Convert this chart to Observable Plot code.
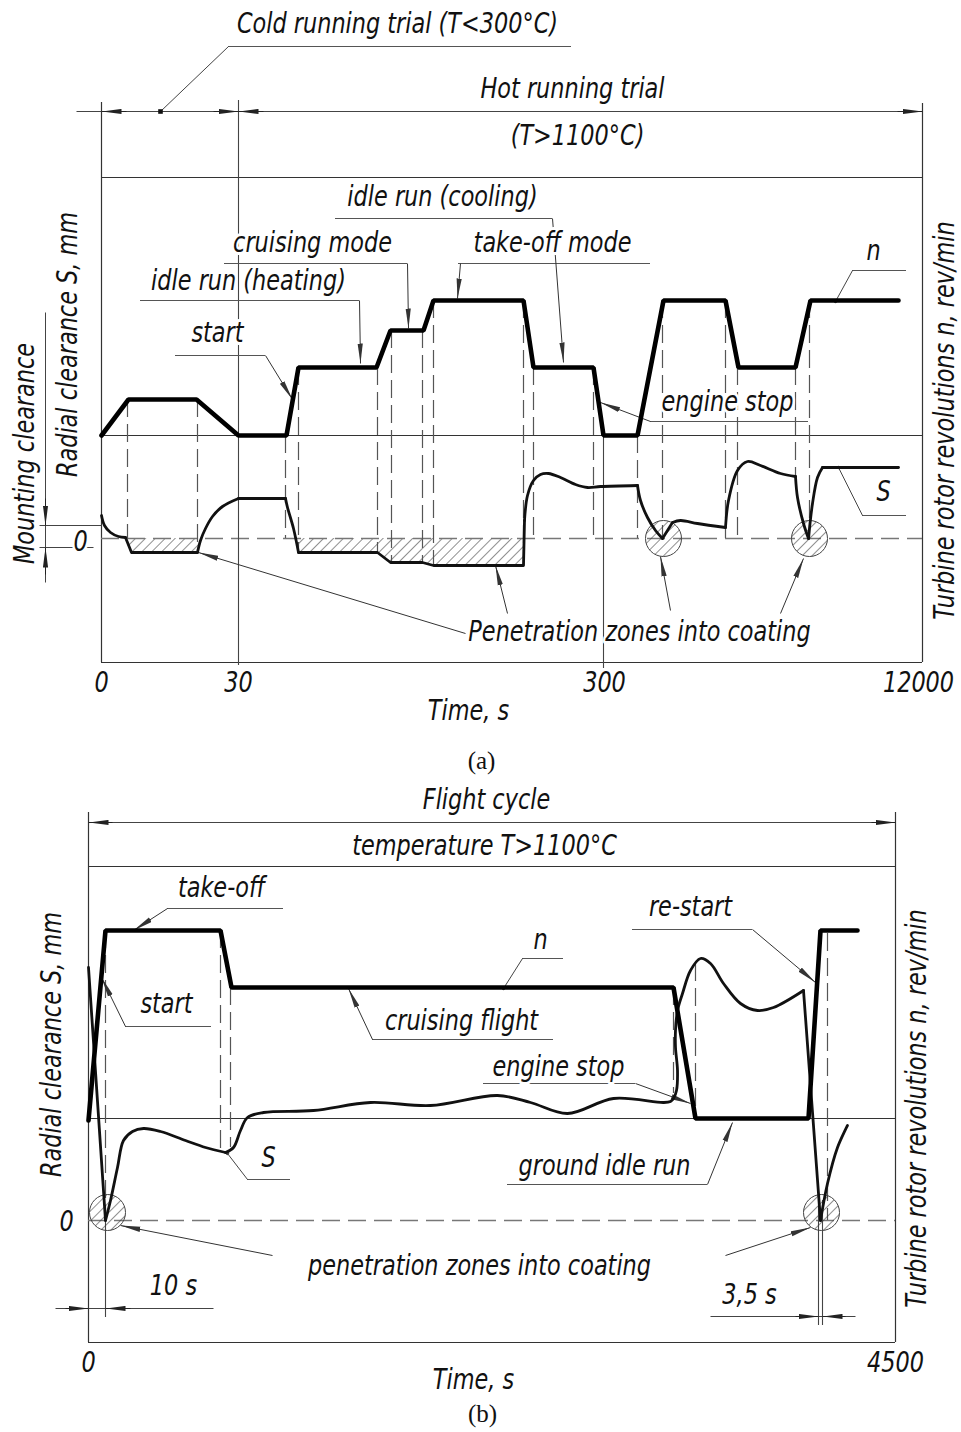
<!DOCTYPE html>
<html><head><meta charset="utf-8">
<script src="https://cdn.jsdelivr.net/npm/d3@7"></script>
<script src="https://cdn.jsdelivr.net/npm/@observablehq/plot@0.6"></script>
<style>
html,body{margin:0;padding:0;background:#fff;}
#chart svg{display:block;}
</style></head><body><div id="chart"></div>
<script>
// ---------------- Panel (a): schematic units (time axis is broken, not linear) ----------------
const aTimeTicks = [0, 137, 503, 817];
const aTimeLabels = ["0", "30", "300", "12000"];
// rotor revolutions n (thick line)
const aRevolutions = [[0,103],[27,139],[95,139],[137,103],[185,103],[197,171],[275,171],[289,208],[322,208],[332,238],[422,238],[432,171],[492,171],[502,103],[536,103],[562,238],[624,238],[637,171],[694,171],[709,238],[797,238]];
// radial clearance S: smooth pieces and straight pieces
const aClearanceSmooth = [
  [[0,23],[3,13],[9,6],[17,2],[24,1]],
  [[96,-14],[99,-2],[104,10],[111,22],[121,32],[137,40]],
  [[184,40],[186,31],[192,10],[197,-14]],
  [[423,18],[426,43],[432,58],[439,64],[447,65],[459,61],[474,54],[486,51],[499,52],[536,53]],
  [[536,53],[539,38],[546,21],[554,8],[561,0]],
  [[571,16],[579,18],[596,15],[624,11]],
  [[624,11],[627,38],[636,68],[646,77],[659,73],[679,65],[694,62]],
  [[694,62],[696,41],[702,15],[707,0]],
  [[707,0],[711,35],[716,61],[721,71]]
];
const aClearanceStraight = [
  [[24,1],[30,-14],[96,-14]],
  [[137,40],[184,40]],
  [[197,-14],[276,-14],[289,-24],[321,-24],[332,-27],[422,-27],[423,18]],
  [[561,0],[571,16]],
  [[721,71],[797,71]]
];
const aPenetrationBands = [
  [[24,0],[30,-14],[96,-14],[99,-2],[99.5,0]],
  [[195,0],[197,-14],[276,-14],[289,-24],[321,-24],[332,-27],[422,-27]]
];
const aPenetrationSpots = [[562,0],[708,0]];
// mode boundaries: x, top, bottom
const aModeBoundaries = [[26,139,0],[96,139,-14],[184,103,0],[197,171,-14],[276,171,-14],[290,208,-24],[321,208,-24],[332,238,-27],[422,238,-27],[432,171,0],[492,171,0],[536,103,0],[561,238,0],[624,238,0],[636,171,0],[694,171,62],[708,238,0]];
const aGuides = [[137,438,-127],[502,103,-130]];
// annotation layer (schematic units)
const aLabels = [
  ["Cold running trial (T<300°C)",296,514],["Hot running trial",471,449],["(T>1100°C)",476,402],
  ["idle run (cooling)",341,341],["cruising mode",211,295],["take-off mode",451,295],
  ["idle run (heating)",147,257],["start",116,205],["engine stop",626,136],["n",772,287],["S",782,46],
  ["Penetration zones into coating",538,-94],["0",-21,-4],["Time, s",367,-173]
];
const aLabelsVertical = [["Mounting clearance",-76,85],["Radial clearance S, mm",-33,194],["Turbine rotor revolutions n, rev/min",844,118]];
const aUnderlines = [[127,470,492],[234,451,320],[123,306,275],[357,549,275],[39,258,238],[74,164,183],[549,707,117],[751,805,268],[761,805,23]];
const aArrowLeaders = [[451,320,462,176],[306,275,307,210],[359,275,356,240],[258,238,259,175],[164,183,191,139],[549,117,499,136],[364,-95,97,-14],[406,-75,394,-27],[569,-72,559,-18],[679,-75,702,-20]];
const aDotLeaders = [[751,268,734,237],[761,23,737,71]];
const aPlainLeaders = [[127,492,59,427],[-25,427,821,427],[-56,226,-56,-44],[-62,13,0,13],[-62,-9,-8,-9]];
const aDimArrows = [[25,427,0,427],[112,427,137,427],[162,427,137,427],[796,427,821,427],[-56,40,-56,13],[-56,-36,-56,-9]];
const aExtensions = [[0,436,-124],[821,435,-124]];
const aSquareDot = [[59,427]];

// ---------------- Panel (b) ----------------
const bTimeTicks = [0, 807];
const bTimeLabels = ["0", "4500"];
const bRevolutions = [[0,100],[17,290],[132,290],[143,233],[585,233],[607,102],[720,102],[732,290],[769,290]];
const bClearanceSmooth = [
  [[17,0],[22,20],[29,53],[35,80],[44,89],[55,92],[72,89],[97,80],[117,73],[137,68]],
  [[137,68],[145,73],[152,90],[159,103],[175,108],[225,110],[282,118],[342,115],[409,125],[442,118],[479,107],[525,122],[575,118],[582,119],[585,122],[588,130],[589,150],[587,173],[587,190],[589,210],[594,227],[602,250],[612,262],[622,257],[635,237],[652,217],[669,210],[685,213],[715,230]],
  [[732,0],[739,37],[749,73],[759,95]]
];
const bClearanceStraight = [[[0,253],[17,0]],[[715,230],[732,0]]];
const bPenetrationSpots = [[19,8],[733,8]];
const bModeBoundaries = [[17,290,0],[132,290,70],[142,233,73],[585,233,127],[607,257,102],[739,287,0]];
const bGuides = [[17,2,-97],[730,20,-105],[734,20,-105]];
const bLabels = [
  ["Flight cycle",398,420],["temperature T>1100°C",396,374],["take-off",133,332],["start",78,216],
  ["cruising flight",373,199],["n",452,280],["engine stop",470,153],["re-start",602,313],["S",180,62],
  ["ground idle run",516,54],["penetration zones into coating",391,-46],["10 s",85,-66],["3,5 s",661,-75],
  ["0",-22,-2],["Time, s",385,-160]
];
const bLabelsVertical = [["Radial clearance S, mm",-36,176],["Turbine rotor revolutions n, rev/min",829,112]];
const bUnderlines = [[79,195,312],[37,123,194],[284,465,181],[434,475,262],[395,547,137],[544,664,291],[159,202,41],[419,619,36]];
const bArrowLeaders = [[79,312,45,290],[37,194,13,243],[284,181,260,232],[547,137,602,117],[664,291,727,238],[619,36,644,98],[184,-35,32,-5],[637,-35,722,-7]];
const bDotLeaders = [[434,262,415,232],[159,41,139,67]];
const bPlainLeaders = [[0,398,807,398],[-33,-88,125,-88],[622,-96,767,-96]];
const bDimArrows = [[24,398,0,398],[783,398,807,398],[-23,-88,0,-88],[42,-88,17,-88],[707,-96,730,-96],[757,-96,734,-96]];
const bExtensions = [[0,408,-122],[807,408,-122]];

// ---------------- helpers ----------------
const GOST = "DejaVu Sans";
const pts = (list) => list.map(([x, y]) => ({x, y}));
const segs = (list) => list.flatMap((p, k) => p.map(([x, y]) => ({x, y, k})));
const lab = (list) => list.map(([text, x, y]) => ({text, x, y}));
const lnk = (list) => list.map(([x1, y1, x2, y2]) => ({x1, y1, x2, y2}));
const uln = (list) => list.map(([x1, x2, y]) => ({x1, x2, y}));
const vr = (list) => list.map(([x, y1, y2]) => ({x, y1, y2}));
const textStyle = {fontSize: 28, fontFamily: GOST, fontStyle: "italic", fill: "#111", stroke: "white", strokeWidth: 6};

function panel(cfg) {
  const marks = [
    ...(cfg.bands ? [Plot.areaY(segs(cfg.bands), {x: "x", y1: 0, y2: "y", z: "k", fill: `url(#${cfg.hatch})`, curve: "linear"})] : []),
    Plot.ruleX(vr(cfg.extensions), {x: "x", y1: "y1", y2: "y2", stroke: "#333", strokeWidth: 1.2}),
    Plot.ruleY([cfg.top, cfg.bottom], {x1: 0, x2: cfg.right, stroke: "#333", strokeWidth: 1.2}),
    Plot.ruleY([cfg.base], {x1: 0, x2: cfg.right, stroke: "#333", strokeWidth: 1.1}),
    Plot.ruleY([0], {x1: 0, x2: cfg.right, stroke: "#777", strokeWidth: 1.4, strokeDasharray: "18,8"}),
    Plot.ruleX(vr(cfg.guides), {x: "x", y1: "y1", y2: "y2", stroke: "#444", strokeWidth: 1.1}),
    Plot.ruleX(vr(cfg.bounds), {x: "x", y1: "y1", y2: "y2", stroke: "#555", strokeWidth: 1.2, strokeDasharray: "18,7"}),
    Plot.ruleY(uln(cfg.underlines), {y: "y", x1: "x1", x2: "x2", stroke: "#555", strokeWidth: 1}),
    Plot.link(lnk(cfg.plain), {x1: "x1", y1: "y1", x2: "x2", y2: "y2", stroke: "#444", strokeWidth: 1}),
    Plot.link(lnk(cfg.arrows), {x1: "x1", y1: "y1", x2: "x2", y2: "y2", stroke: "#333", strokeWidth: 1, markerEnd: "arrow"}),
    Plot.link(lnk(cfg.dims), {x1: "x1", y1: "y1", x2: "x2", y2: "y2", stroke: "#222", strokeWidth: 1, markerEnd: "arrow"}),
    Plot.link(lnk(cfg.dots), {x1: "x1", y1: "y1", x2: "x2", y2: "y2", stroke: "#444", strokeWidth: 1, markerEnd: "dot"}),
    Plot.dot(pts(cfg.spots), {x: "x", y: "y", r: 18, fill: `url(#${cfg.hatch})`, stroke: "#444", strokeWidth: 1}),
    Plot.line(segs(cfg.sStraight), {x: "x", y: "y", z: "k", stroke: "#111", strokeWidth: 2.8, curve: "linear"}),
    Plot.line(segs(cfg.sSmooth), {x: "x", y: "y", z: "k", stroke: "#111", strokeWidth: 2.8, curve: "catmull-rom"}),
    Plot.line(pts(cfg.rev), {x: "x", y: "y", stroke: "#000", strokeWidth: 4.6, strokeLinejoin: "miter", curve: "linear"}),
    ...(cfg.square ? [Plot.dot(pts(cfg.square), {x: "x", y: "y", symbol: "square", r: 2.6, fill: "#111"})] : []),
    Plot.text(lab(cfg.labels), {x: "x", y: "y", text: "text", ...textStyle}),
    Plot.text(lab(cfg.vlabels), {x: "x", y: "y", text: "text", rotate: -90, ...textStyle}),
    Plot.axisX(cfg.ticks, {tickFormat: d => cfg.tickLabels[cfg.ticks.indexOf(d)], tickSize: 0, tickPadding: 10, label: null, anchor: "bottom", fontSize: 28, fontFamily: GOST, fontStyle: "italic", fill: "#111"}),
    Plot.text([cfg.caption], {x: cfg.capX, y: cfg.capY, text: d => d, fontSize: 25, fontFamily: "Liberation Serif", fill: "#111"})
  ];
  const svg = Plot.plot({
    width: 961, height: cfg.height,
    marginLeft: cfg.ml, marginRight: cfg.mr, marginTop: cfg.mt, marginBottom: cfg.mb,
    x: {domain: [0, cfg.right], axis: null},
    y: {domain: [cfg.bottom, cfg.top], axis: null},
    style: {background: "#fff"},
    marks
  });
  const s = d3.select(svg);
  s.insert("defs", ":first-child").html(`<pattern id="${cfg.hatch}" patternUnits="userSpaceOnUse" width="7" height="7" patternTransform="rotate(45)"><line x1="0" y1="-1" x2="0" y2="8" stroke="#333" stroke-width="1.1"/></pattern>`);
  s.selectAll("marker").each(function() {
    const m = d3.select(this);
    if (m.select("path").empty()) return;
    const c = m.attr("stroke") || "#222";
    m.attr("viewBox", "-20 -3 20 6").attr("markerWidth", 20).attr("markerHeight", 6)
     .attr("markerUnits", "userSpaceOnUse").attr("refX", 0).attr("refY", 0)
     .attr("fill", c).attr("stroke", "none");
    m.select("path").attr("d", "M-20,-2.6L0,0L-20,2.6Z");
  });
  s.selectAll("text").each(function() {
    const g = this.closest("g[font-family]");
    if (g && /Serif/.test(g.getAttribute("font-family"))) return;
    const t = this.getAttribute("transform") || "";
    this.setAttribute("transform", t + " scale(0.8,1)");
  });
  return svg;
}

const chart = document.getElementById("chart");
chart.appendChild(panel({
  height: 775, ml: 101, mr: 39, mt: 177, mb: 113, right: 821, top: 361, bottom: -124, base: 103,
  hatch: "hatchA", bands: aPenetrationBands, extensions: aExtensions, guides: aGuides, bounds: aModeBoundaries,
  underlines: aUnderlines, plain: aPlainLeaders, arrows: aArrowLeaders, dims: aDimArrows, dots: aDotLeaders,
  spots: aPenetrationSpots, sStraight: aClearanceStraight, sSmooth: aClearanceSmooth, rev: aRevolutions,
  square: aSquareDot, labels: aLabels, vlabels: aLabelsVertical, ticks: aTimeTicks, tickLabels: aTimeLabels,
  caption: "(a)", capX: 380, capY: -222
}));
chart.appendChild(panel({
  height: 657, ml: 88, mr: 66, mt: 91, mb: 90, right: 807, top: 354, bottom: -122, base: 102,
  hatch: "hatchB", bands: null, extensions: bExtensions, guides: bGuides, bounds: bModeBoundaries,
  underlines: bUnderlines, plain: bPlainLeaders, arrows: bArrowLeaders, dims: bDimArrows, dots: bDotLeaders,
  spots: bPenetrationSpots, sStraight: bClearanceStraight, sSmooth: bClearanceSmooth, rev: bRevolutions,
  square: null, labels: bLabels, vlabels: bLabelsVertical, ticks: bTimeTicks, tickLabels: bTimeLabels,
  caption: "(b)", capX: 394, capY: -193
}));
</script></body></html>
